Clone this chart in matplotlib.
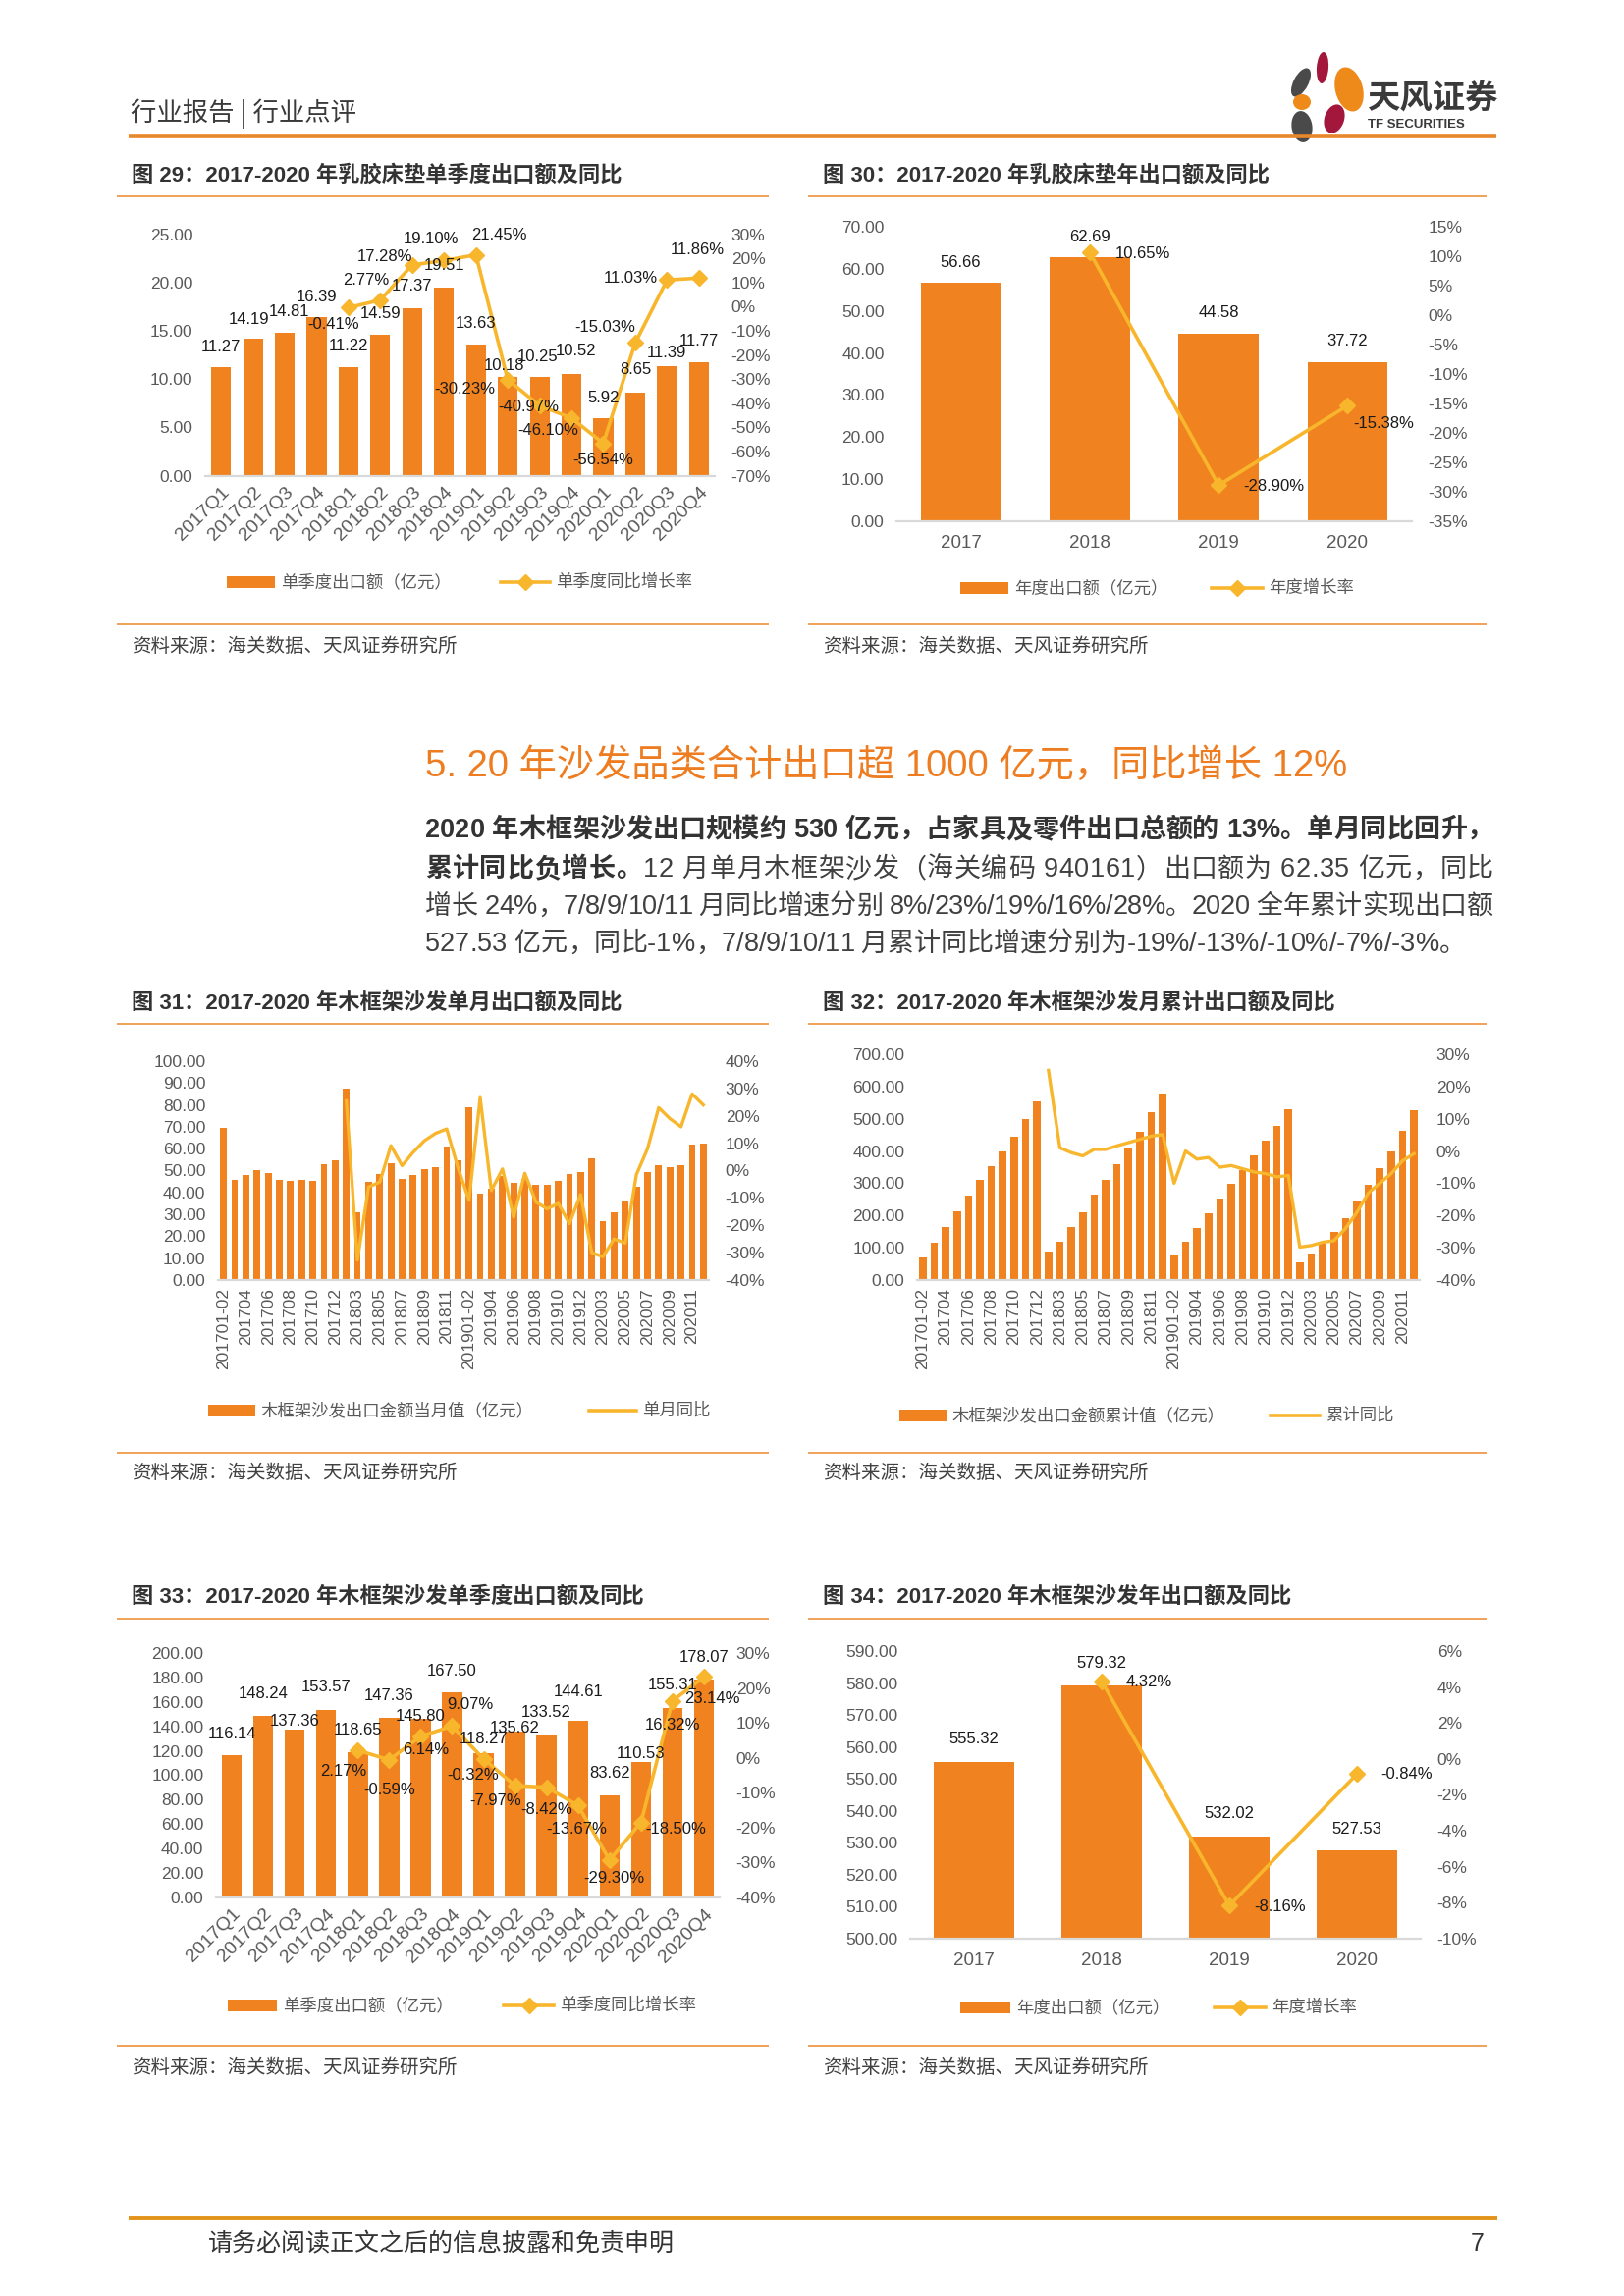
import numpy as np
import matplotlib
matplotlib.use('Agg')
import matplotlib.pyplot as plt
from matplotlib.patches import Ellipse, Rectangle
from matplotlib.lines import Line2D
from matplotlib.font_manager import FontProperties

# ---------------- data ----------------
quarters = ['2017Q1', '2017Q2', '2017Q3', '2017Q4', '2018Q1', '2018Q2', '2018Q3', '2018Q4',
            '2019Q1', '2019Q2', '2019Q3', '2019Q4', '2020Q1', '2020Q2', '2020Q3', '2020Q4']
years = ['2017', '2018', '2019', '2020']

# Fig 29 latex mattress quarterly
latex_q_vals = [11.27, 14.19, 14.81, 16.39, 11.22, 14.59, 17.37, 19.51,
                13.63, 10.18, 10.25, 10.52, 5.92, 8.65, 11.39, 11.77]
latex_q_yoy = [None, None, None, None, -0.41, 2.77, 17.28, 19.10,
               21.45, -30.23, -40.97, -46.10, -56.54, -15.03, 11.03, 11.86]

# Fig 30 latex mattress annual
latex_y_vals = [56.66, 62.69, 44.58, 37.72]
latex_y_yoy = [None, 10.65, -28.90, -15.38]

# Fig 31/32 monthly categories
months = ['201701-02', '201703', '201704', '201705', '201706', '201707', '201708', '201709',
          '201710', '201711', '201712',
          '201801-02', '201803', '201804', '201805', '201806', '201807', '201808', '201809',
          '201810', '201811', '201812',
          '201901-02', '201903', '201904', '201905', '201906', '201907', '201908', '201909',
          '201910', '201911', '201912',
          '202001-02', '202003', '202004', '202005', '202006', '202007', '202008', '202009',
          '202010', '202011', '202012']

sofa_m_vals = [69.5, 45.8, 48.2, 50.3, 49.1, 45.8, 45.2, 45.8, 45.2, 53.0, 54.7,
               87.6, 31.1, 44.7, 48.5, 53.5, 46.2, 48.0, 50.8, 51.4, 60.9, 54.7,
               79.0, 39.5, 41.7, 47.7, 44.5, 46.2, 43.5, 43.5, 45.2, 48.5, 49.5,
               55.8, 26.8, 31.0, 36.0, 42.8, 49.5, 52.6, 51.6, 52.5, 62.1, 62.35]
sofa_m_yoy = [None] * 11 + [
    25.5, -32.7, -6.0, -4.2, 9.1, 1.8, 6.7, 10.9, 13.6, 15.2, 1.2,
    -10.9, 26.7, -7.3, 0.6, -17.0, -1.0, -11.5, -14.0, -12.0, -19.4, -8.8,
    -30.0, -31.5, -25.0, -26.5, -1.5, 8.0, 23.0, 19.0, 16.0, 28.0, 24.0]

sofa_cum_vals = [69, 115, 163, 213, 263, 309, 354, 400, 445, 498, 553,
                 87, 118, 163, 211, 264, 311, 359, 410, 461, 521, 578,
                 78, 118, 160, 208, 252, 298, 342, 385, 431, 478, 530,
                 56, 82, 113, 149, 192, 242, 295, 347, 400, 462, 527.5]
sofa_cum_yoy = [None] * 11 + [
    25.0, 1.0, -0.5, -1.5, 0.5, 0.5, 1.6, 2.6, 3.6, 4.6, 5.1,
    -10.0, 0.0, -2.5, -2.0, -5.0, -4.5, -5.5, -6.5, -7.0, -8.0, -7.6,
    -29.8, -29.3, -28.3, -27.8, -24.0, -19.0, -13.0, -10.0, -7.0, -3.0, -0.84]

# Fig 33 sofa quarterly
sofa_q_vals = [116.14, 148.24, 137.36, 153.57, 118.65, 147.36, 145.80, 167.50,
               118.27, 135.62, 133.52, 144.61, 83.62, 110.53, 155.31, 178.07]
sofa_q_yoy = [None, None, None, None, 2.17, -0.59, 6.14, 9.07,
              -0.32, -7.97, -8.42, -13.67, -29.30, -18.50, 16.32, 23.14]

# Fig 34 sofa annual
sofa_y_vals = [555.32, 579.32, 532.02, 527.53]
sofa_y_yoy = [None, 4.32, -8.16, -0.84]

# ---------------- label placement (pixels: dx right, dy down) ----------------
off29_bar = [(0, -20), (-4, -20), (4, -21), (0, -21), (0, -22), (0, -22), (0, -22), (0, -22),
             (0, -21), (-4, -12), (-2, -20), (5, -24), (0, -21), (0, -23), (0, -13), (0, -21)]
off29_rate = [None, None, None, None, (-15, 17), (-15, -20), (-28, -8), (-13, -22),
              (24, -20), (-44, 10), (-11, 1), (-24, 13), (0, 17), (-31, -16), (-37, -2), (-1, -29)]
off33_bar = [(0, -22), (0, -23), (0, -8), (0, -23), (0, -23), (0, -22), (0, -3), (0, -22),
             (0, -14), (0, -4), (0, -22), (0, -29), (0, -22), (0, -9), (0, -23), (0, -23)]
off33_rate = [None, None, None, None, (-15, 22), (0, 31), (5, 14), (18, -22),
              (-11, 17), (-20, 15), (0, 23), (-2, 24), (5, 19), (35, 7), (0, 25), (8, 22)]
off30_bar = [(0, -21), (0, -21), (0, -21), (0, -22)]
off30_rate = [None, (54, 1), (56, 1), (37, 18)]
off34_bar = [(0, -23), (0, -22), (0, -23), (0, -22)]
off34_rate = [None, (48, 1), (52, 1), (51, 0)]

# ---------------- style ----------------
W, H = 1654, 2339
BAR_C = '#F0821F'
LINE_C = '#F8B62C'
TICK_C = '#595959'
LAB_C = '#1A1A1A'
SEP_C = '#EE9A4A'
AXIS_C = '#D9D9D9'
NUM = ['Liberation Sans', 'Noto Sans CJK SC', 'DejaVu Sans']
CJK = ['Noto Sans CJK SC', 'DejaVu Sans']
PT = 0.72  # points per pixel at dpi 100
LABEL_FS = 12

fig = plt.figure(figsize=(W / 100, H / 100), dpi=100)
bg = fig.add_axes([0, 0, 1, 1])
bg.set_xlim(0, W)
bg.set_ylim(H, 0)
bg.set_autoscale_on(False)
bg.axis('off')
renderer = fig.canvas.get_renderer()


def arr(v):
    return np.array([np.nan if x is None else x for x in v], dtype=float)


def hline(x0, x1, y, color, lw):
    bg.add_line(Line2D([x0, x1], [y, y], color=color, lw=lw, solid_capstyle='butt'))


def make_axes(box, n, ylim, yticks, yfmt, rlim, rticks, lpad=9, rpad=12):
    x0, yt, x1, yb = box
    ax = fig.add_axes([x0 / W, 1 - yb / H, (x1 - x0) / W, (yb - yt) / H])
    ax.set_xlim(-0.5, n - 0.5)
    ax.set_ylim(*ylim)
    ax.set_yticks(yticks)
    ax.set_yticklabels([yfmt.format(v) for v in yticks], fontsize=12.5, color=TICK_C, family=NUM)
    for s in ['top', 'right', 'left']:
        ax.spines[s].set_visible(False)
    ax.spines['bottom'].set_color(AXIS_C)
    ax.spines['bottom'].set_linewidth(1.6)
    ax.tick_params(axis='both', length=0)
    ax.tick_params(axis='y', pad=lpad)
    ax.patch.set_visible(False)
    ax2 = ax.twinx()
    ax2.set_ylim(*rlim)
    ax2.set_yticks(rticks)
    ax2.set_yticklabels(['{:.0f}%'.format(v) for v in rticks], fontsize=12.5, color=TICK_C, family=NUM)
    for s in ax2.spines.values():
        s.set_visible(False)
    ax2.tick_params(axis='y', length=0, pad=rpad)
    ax2.set_xlim(-0.5, n - 0.5)
    return ax, ax2


def panel_frame(x0, x1, title, ytitle, ysep, ybot, ysrc):
    bg.text(x0 + 15, ytitle, title, fontsize=16, fontweight='bold', color='#333333',
            family=NUM, va='center', ha='left')
    hline(x0, x1, ysep, SEP_C, 1.3)
    hline(x0, x1, ybot, SEP_C, 1.3)
    bg.text(x0 + 15, ysrc, '资料来源：海关数据、天风证券研究所', fontsize=14, color='#404040',
            family=CJK, va='center', ha='left')


def legend(y, bx0, bx1, btxt, lx0, lx1, ltxt, marker=True):
    bg.add_patch(Rectangle((bx0, y - 6), bx1 - bx0, 12, color=BAR_C, lw=0))
    bg.text(bx1 + 6, y, btxt, fontsize=12.5, color=TICK_C, family=CJK, va='center', ha='left')
    bg.add_line(Line2D([lx0, lx1], [y, y], color=LINE_C, lw=2.6))
    if marker:
        bg.add_line(Line2D([(lx0 + lx1) / 2], [y], color=LINE_C, marker='D', ms=8, lw=0))
    bg.text(lx1 + 6, y, ltxt, fontsize=12.5, color=TICK_C, family=CJK, va='center', ha='left')


def bar_labels(ax, ax2, vals, offs, fmt='{:.2f}'):
    for i, v in enumerate(vals):
        dx, dy = offs[i]
        ax2.annotate(fmt.format(v), xy=(i, v), xycoords=ax.transData,
                     xytext=(dx * PT, -dy * PT), textcoords='offset points',
                     ha='center', va='center', fontsize=LABEL_FS, color=LAB_C, family=NUM, zorder=6)


def rate_labels(ax2, vals, offs):
    for i, v in enumerate(vals):
        if v is None:
            continue
        dx, dy = offs[i]
        ax2.annotate('{:.2f}%'.format(v), xy=(i, v), xytext=(dx * PT, -dy * PT),
                     textcoords='offset points', ha='center', va='center',
                     fontsize=LABEL_FS, color=LAB_C, family=NUM, zorder=6)


def text_width(s, prop):
    w, _, _ = renderer.get_text_width_height_descent(s, prop, ismath=False)
    return w


def justified_line(x0, x1, y, segments, size, justify=True):
    """segments: list of (text, weight, color); places characters evenly to fill x0..x1."""
    items = []
    for s, wgt, col in segments:
        prop = FontProperties(family=NUM, size=size, weight=wgt)
        ref = text_width('汉', prop)
        prev = 0.0
        for k in range(1, len(s) + 1):
            cur = text_width(s[:k] + '汉', prop) - ref
            items.append((s[k - 1], wgt, col, cur - prev))
            prev = cur
    total = sum(it[3] for it in items)
    gap = (x1 - x0 - total) / (len(items) - 1) if justify else 0.0
    x = x0
    for ch, wgt, col, adv in items:
        if ch != ' ':
            bg.text(x, y, ch, fontsize=size, fontweight=wgt, color=col, family=NUM,
                    va='center', ha='left')
        x += adv + gap


# ---------------- header ----------------
bg.text(133, 116, '行业报告 | 行业点评', fontsize=19, color='#3A3A3A', family=CJK, va='center', ha='left')
hline(131, 1524, 139, '#E8862A', 2.6)
for (cx, cy, w, h, ang, col) in [
        (1347, 69, 12, 32, 4, '#A3173C'),
        (1325, 84, 15, 32, 28, '#4A4A4A'),
        (1374, 91, 28, 46, -15, '#EE8A1A'),
        (1326, 104, 18, 16, 0, '#EE8A1A'),
        (1359, 121, 20, 30, 18, '#A3173C'),
        (1326, 129, 21, 32, -8, '#4A4A4A')]:
    bg.add_patch(Ellipse((cx, cy), w, h, angle=ang, color=col, lw=0))
bg.text(1392, 100, '天风证券', fontsize=24, fontweight='bold', color='#3A3A3A', family=CJK,
        va='center', ha='left')
bg.text(1393, 127, 'TF SECURITIES', fontsize=9.5, fontweight='bold', color='#3A3A3A', family=NUM,
        va='center', ha='left')

# ---------------- Fig 29 ----------------
panel_frame(119, 783, '图 29：2017-2020 年乳胶床垫单季度出口额及同比', 179, 200, 636, 658)
ax, ax2 = make_axes((209, 238.6, 728, 484.7), 16, (0, 25), np.arange(0, 25.1, 5), '{:.2f}',
                    (-70, 30), np.arange(-70, 31, 10))
x = np.arange(16)
ax.bar(x, latex_q_vals, width=0.62, color=BAR_C, zorder=2)
ax2.plot(x, arr(latex_q_yoy), color=LINE_C, lw=2.6, marker='D', ms=8, zorder=4)
ax.set_xticks(x)
ax.set_xticklabels(quarters, rotation=45, ha='right', va='top', rotation_mode='anchor',
                   fontsize=14, color=TICK_C, family=NUM)
ax.tick_params(axis='x', pad=6)
bar_labels(ax, ax2, latex_q_vals, off29_bar)
rate_labels(ax2, latex_q_yoy, off29_rate)
legend(593, 231, 280, '单季度出口额（亿元）', 510, 560, '单季度同比增长率')

# ---------------- Fig 30 ----------------
panel_frame(823, 1514, '图 30：2017-2020 年乳胶床垫年出口额及同比', 179, 200, 636, 658)
ax, ax2 = make_axes((913, 231, 1438, 531), 4, (0, 70), np.arange(0, 70.1, 10), '{:.2f}',
                    (-35, 15), np.arange(-35, 16, 5))
x = np.arange(4)
ax.bar(x, latex_y_vals, width=0.62, color=BAR_C, zorder=2)
ax2.plot(x, arr(latex_y_yoy), color=LINE_C, lw=2.6, marker='D', ms=8, zorder=4)
ax.set_xticks(x)
ax.set_xticklabels(years, fontsize=13.5, color=TICK_C, family=NUM)
ax.tick_params(axis='x', pad=10)
bar_labels(ax, ax2, latex_y_vals, off30_bar)
rate_labels(ax2, latex_y_yoy, off30_rate)
legend(599, 978, 1027, '年度出口额（亿元）', 1234, 1286, '年度增长率')

# ---------------- section text ----------------
bg.text(433, 781, '5. 20 年沙发品类合计出口超 1000 亿元，同比增长 12%', fontsize=27.5, color='#EE7D22',
        family=NUM, va='center', ha='left')
BODY = 19.5
BX0, BX1 = 433, 1521
B_C, R_C = '#333333', '#404040'
justified_line(BX0, BX1, 846,
               [('2020 年木框架沙发出口规模约 530 亿元，占家具及零件出口总额的 13%。单月同比回升，', 'bold', B_C)],
               BODY)
justified_line(BX0, BX1, 886,
               [('累计同比负增长。', 'bold', B_C),
                ('12 月单月木框架沙发（海关编码 940161）出口额为 62.35 亿元，同比', 'normal', R_C)],
               BODY)
justified_line(BX0, BX1, 924,
               [('增长 24%，7/8/9/10/11 月同比增速分别 8%/23%/19%/16%/28%。2020 全年累计实现出口额', 'normal', R_C)],
               BODY)
justified_line(BX0, BX1, 962,
               [('527.53 亿元，同比-1%，7/8/9/10/11 月累计同比增速分别为-19%/-13%/-10%/-7%/-3%。', 'normal', R_C)],
               BODY, justify=False)

# ---------------- Fig 31 ----------------
panel_frame(119, 783, '图 31：2017-2020 年木框架沙发单月出口额及同比', 1022, 1043, 1480, 1500)
ax, ax2 = make_axes((222, 1081, 722, 1304), 44, (0, 100), np.arange(0, 100.1, 10), '{:.2f}',
                    (-40, 40), np.arange(-40, 41, 10))
x = np.arange(44)
ax.bar(x, sofa_m_vals, width=0.6, color=BAR_C, zorder=2)
ax2.plot(x, arr(sofa_m_yoy), color=LINE_C, lw=2.4, zorder=4)
ax.set_xticks(x[::2])
ax.set_xticklabels(months[::2], rotation=90, fontsize=12.5, color=TICK_C, family=NUM)
ax.tick_params(axis='x', pad=6)
legend(1437, 212, 260, '木框架沙发出口金额当月值（亿元）', 600, 648, '单月同比', marker=False)

# ---------------- Fig 32 ----------------
panel_frame(823, 1514, '图 32：2017-2020 年木框架沙发月累计出口额及同比', 1022, 1043, 1480, 1500)
ax, ax2 = make_axes((934, 1074, 1446, 1304), 44, (0, 700), np.arange(0, 700.1, 100), '{:.2f}',
                    (-40, 30), np.arange(-40, 31, 10))
ax.bar(x, sofa_cum_vals, width=0.66, color=BAR_C, zorder=2)
ax2.plot(x, arr(sofa_cum_yoy), color=LINE_C, lw=2.4, zorder=4)
ax.set_xticks(x[::2])
ax.set_xticklabels(months[::2], rotation=90, fontsize=12.5, color=TICK_C, family=NUM)
ax.tick_params(axis='x', pad=6)
legend(1442, 916, 964, '木框架沙发出口金额累计值（亿元）', 1294, 1344, '累计同比', marker=False)

# ---------------- Fig 33 ----------------
panel_frame(119, 783, '图 33：2017-2020 年木框架沙发单季度出口额及同比', 1627, 1649, 2084, 2106)
ax, ax2 = make_axes((220, 1684, 733, 1933), 16, (0, 200), np.arange(0, 200.1, 20), '{:.2f}',
                    (-40, 30), np.arange(-40, 31, 10))
x = np.arange(16)
ax.bar(x, sofa_q_vals, width=0.64, color=BAR_C, zorder=2)
ax2.plot(x, arr(sofa_q_yoy), color=LINE_C, lw=2.6, marker='D', ms=8, zorder=4)
ax.set_xticks(x)
ax.set_xticklabels(quarters, rotation=45, ha='right', va='top', rotation_mode='anchor',
                   fontsize=14, color=TICK_C, family=NUM)
ax.tick_params(axis='x', pad=6)
bar_labels(ax, ax2, sofa_q_vals, off33_bar)
rate_labels(ax2, sofa_q_yoy, off33_rate)
legend(2043, 232, 282, '单季度出口额（亿元）', 513, 564, '单季度同比增长率')

# ---------------- Fig 34 ----------------
panel_frame(823, 1514, '图 34：2017-2020 年木框架沙发年出口额及同比', 1627, 1649, 2084, 2106)
ax, ax2 = make_axes((927, 1682, 1447, 1975), 4, (500, 590), np.arange(500, 590.1, 10), '{:.2f}',
                    (-10, 6), np.arange(-10, 6.1, 2))
x = np.arange(4)
ax.bar(x, sofa_y_vals, width=0.63, color=BAR_C, zorder=2)
ax2.plot(x, arr(sofa_y_yoy), color=LINE_C, lw=2.6, marker='D', ms=8, zorder=4)
ax.set_xticks(x)
ax.set_xticklabels(years, fontsize=13.5, color=TICK_C, family=NUM)
ax.tick_params(axis='x', pad=10)
bar_labels(ax, ax2, sofa_y_vals, off34_bar)
rate_labels(ax2, sofa_y_yoy, off34_rate)
legend(2045, 978, 1029, '年度出口额（亿元）', 1237, 1289, '年度增长率')

# ---------------- footer ----------------
hline(131, 1525, 2260, '#E3931A', 2.8)
bg.text(212, 2286, '请务必阅读正文之后的信息披露和免责申明', fontsize=18, color='#333333', family=CJK,
        va='center', ha='left')
bg.text(1512, 2286, '7', fontsize=18, color='#333333', family=NUM, va='center', ha='right')

fig.savefig('out.png', dpi=100)
